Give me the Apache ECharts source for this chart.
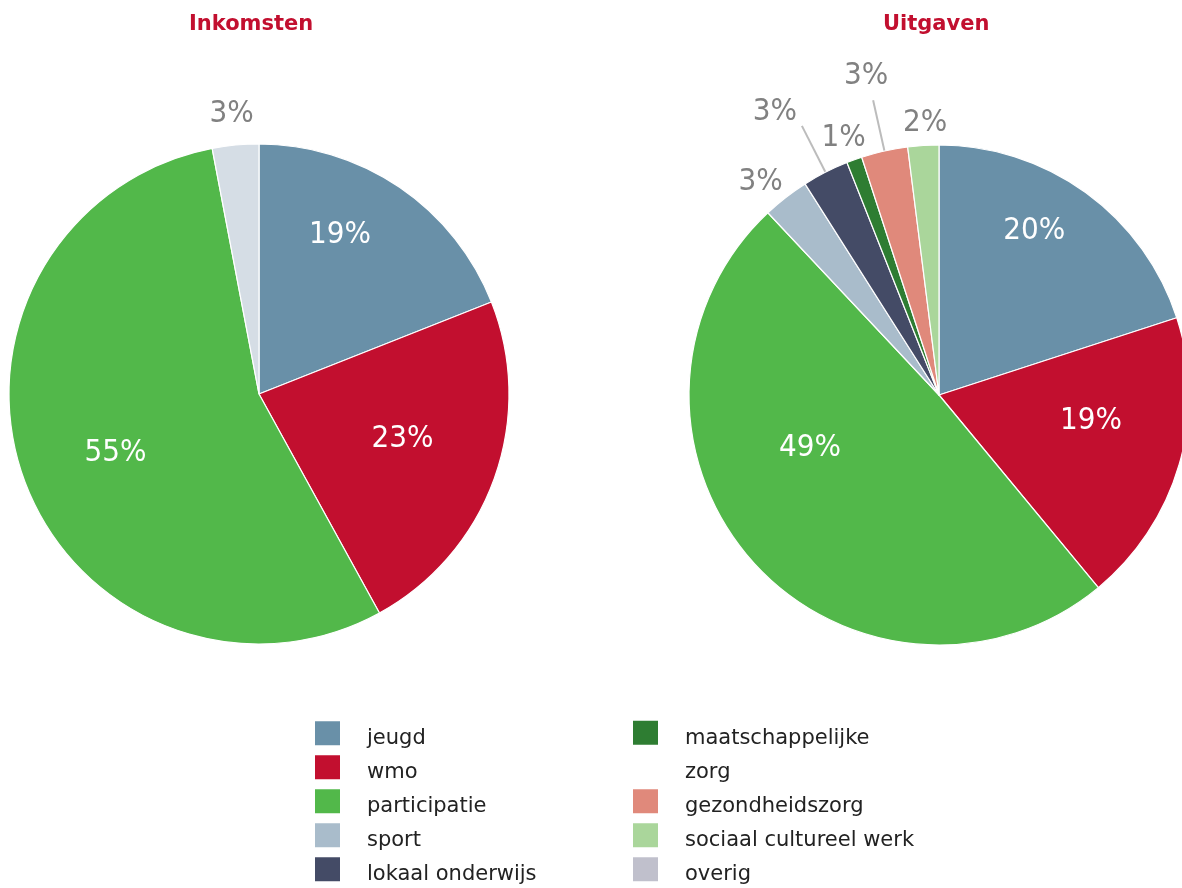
<!DOCTYPE html>
<html>
<head>
<meta charset="utf-8">
<script src="https://cdn.jsdelivr.net/npm/echarts@6/dist/echarts.min.js"></script>
<style>
html, body { margin: 0; padding: 0; background: #fff; }
#chart { width: 1182px; height: 888px; }
</style>
</head>
<body>
<div id="chart"></div>
<script>
// categories + legend colours
const categories = ['jeugd', 'wmo', 'participatie', 'sport', 'lokaal onderwijs',
    'maatschappelijke zorg', 'gezondheidszorg', 'sociaal cultureel werk', 'overig'];
const categoryColors = ['#6990a8', '#c20f2f', '#52b84a', '#a9bccb', '#444b66',
    '#2e7d32', '#e0897b', '#aad69b', '#c0c0cc'];

// Inkomsten (%)
const incomeNames = ['jeugd', 'wmo', 'participatie', 'overig'];
const incomeValues = [19, 23, 55, 3];

// Uitgaven (%)
const expenseNames = ['jeugd', 'wmo', 'participatie', 'sport', 'lokaal onderwijs',
    'maatschappelijke zorg', 'gezondheidszorg', 'sociaal cultureel werk'];
const expenseValues = [20, 19, 49, 3, 3, 1, 3, 2];

const LABEL_FONT = '"DejaVu Sans Condensed", "Liberation Sans Narrow", "DejaVu Sans", sans-serif';
const TEXT_FONT = '"DejaVu Sans", Verdana, sans-serif';

// label nudges (dx, dy) per slice
const incomeNudge = [[9, -53], [23, 2], [-23, 16], [3, -11]];
const expenseNudge = [[20, -60], [29, -10], [-33, -32], [-8, 0], [-22, -14], [1, -3], [-2, -24], [8, -3]];
// which slices carry an outside label and which of those get a leader line
const incomeOutside = [false, false, false, true];
const expenseOutside = [false, false, false, true, true, true, true, true];
const expenseLine = [false, false, false, false, true, false, true, false];

function colorOf(name) {
    return categoryColors[categories.indexOf(name)];
}

function buildData(names, values, outside, withLine, overrides) {
    return names.map((name, i) => {
        const item = {
            name,
            value: values[i],
            itemStyle: { color: (overrides && overrides[name]) || colorOf(name) }
        };
        if (outside[i]) {
            item.label = { position: 'outside', color: '#818181' };
            item.labelLine = {
                show: !!(withLine && withLine[i]),
                length: withLine && withLine[i] ? 52 : 20,
                length2: 0,
                lineStyle: { color: '#bcbcbc', width: 2 }
            };
        }
        return item;
    });
}

function pieSeries(name, center, data, nudge, outside) {
    return {
        name,
        type: 'pie',
        center,
        radius: 250,
        startAngle: 90,
        clockwise: true,
        avoidLabelOverlap: false,
        animation: false,
        silent: true,
        itemStyle: { borderColor: '#fff', borderWidth: 1.2 },
        label: {
            show: true,
            position: 'inside',
            formatter: '{c}%',
            color: '#fff',
            fontFamily: LABEL_FONT,
            fontSize: 31
        },
        labelLine: { show: false },
        labelLayout: params => {
            const n = nudge[params.dataIndex];
            const out = { dx: n[0], dy: n[1] };
            if (outside[params.dataIndex]) out.align = 'center';
            return out;
        },
        data
    };
}

// one legend block per entry so the two columns line up like the original
const legendCol1 = ['jeugd', 'wmo', 'participatie', 'sport', 'lokaal onderwijs'];
const legendCol2 = ['maatschappelijke zorg', null, 'gezondheidszorg', 'sociaal cultureel werk', 'overig'];
const ROW = 34;
const LH = ROW / 3; // thin lines; blank lines push the text a bit below the icon centre

function legendBlock(name, left, row) {
    const iconTop = 717 + row * ROW;
    const twoLine = name === 'maatschappelijke zorg';
    return {
        data: [{ name, itemStyle: { color: colorOf(name) } }],
        left,
        top: twoLine ? iconTop - (8 * LH / 2 - 13) - 2 : iconTop,
        padding: 0,
        itemGap: 0,
        itemWidth: 27,
        itemHeight: 26,
        icon: 'rect',
        selectedMode: false,
        formatter: n => twoLine ? '\n\n\n\nmaatschappelijke\n\n\nzorg' : '\n' + n,
        textStyle: {
            fontFamily: TEXT_FONT,
            fontSize: 21,
            color: '#222',
            padding: [0, 0, 0, 21],
            lineHeight: LH
        }
    };
}

const legends = [];
legendCol1.forEach((n, i) => legends.push(legendBlock(n, 313, i)));
legendCol2.forEach((n, i) => { if (n) legends.push(legendBlock(n, 631, i)); });

const chart = echarts.init(document.getElementById('chart'));
chart.setOption({
    backgroundColor: '#fff',
    title: [
        { text: 'Inkomsten', left: 189, top: 14, padding: 0,
          textStyle: { fontFamily: TEXT_FONT, fontSize: 21, fontWeight: 'bold', color: '#c20f2f' } },
        { text: 'Uitgaven', left: 883, top: 14, padding: 0,
          textStyle: { fontFamily: TEXT_FONT, fontSize: 21, fontWeight: 'bold', color: '#c20f2f' } }
    ],
    legend: legends,
    series: [
        pieSeries('Inkomsten', [259, 394],
            buildData(incomeNames, incomeValues, incomeOutside, null, { overig: '#d5dde5' }),
            incomeNudge, incomeOutside),
        pieSeries('Uitgaven', [939, 395],
            buildData(expenseNames, expenseValues, expenseOutside, expenseLine),
            expenseNudge, expenseOutside)
    ]
});
</script>
</body>
</html>
